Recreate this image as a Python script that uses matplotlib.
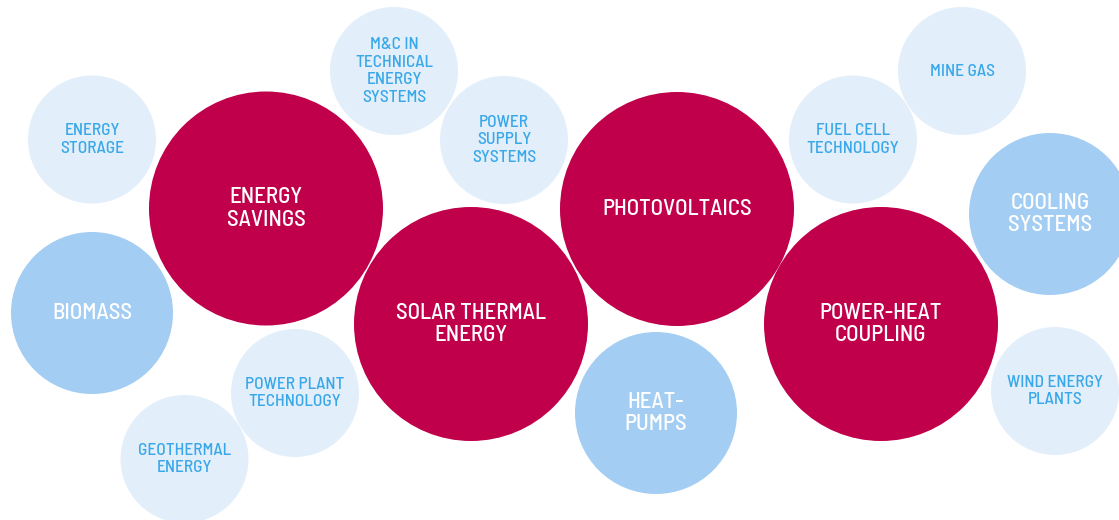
import matplotlib.pyplot as plt
from matplotlib.patches import Circle

# bubbles: label, centre x, centre y, radius (pixel units of the 1119x520 picture), group
labels = [
    "ENERGY\nSTORAGE", "M&C IN\nTECHNICAL\nENERGY\nSYSTEMS", "POWER\nSUPPLY\nSYSTEMS",
    "FUEL CELL\nTECHNOLOGY", "MINE GAS", "POWER PLANT\nTECHNOLOGY", "GEOTHERMAL\nENERGY",
    "WIND ENERGY\nPLANTS",
    "BIOMASS", "HEAT-\nPUMPS", "COOLING\nSYSTEMS",
    "ENERGY\nSAVINGS", "SOLAR THERMAL\nENERGY", "PHOTOVOLTAICS", "POWER-HEAT\nCOUPLING",
]
cx = [92, 394, 504, 853, 962, 295, 184.5, 1055, 92, 656, 1050, 266, 471, 677, 881]
cy = [139.5, 71, 140, 139.5, 71, 393, 459, 391, 313, 413, 214, 208.5, 324, 209, 324]
radius = [64, 64, 64, 64, 64, 64, 64, 64, 81, 81, 81, 117, 117, 117, 117]
group = ["small"] * 8 + ["medium"] * 3 + ["large"] * 4

fill = {"small": "#E2EFFB", "medium": "#A3CDF2", "large": "#C0004A"}
ink = {"small": "#3AA8E8", "medium": "#FFFFFF", "large": "#FFFFFF"}
size = {"small": 12.5, "medium": 16.5, "large": 16.5}
weight = {"small": "medium", "medium": "medium", "large": "medium"}
spacing = {"small": 1.2, "medium": 1.15, "large": 1.15}
fam = ["Barlow Semi Condensed", "Roboto Condensed", "DejaVu Sans"]

fig = plt.figure(figsize=(11.19, 5.2), dpi=100)
ax = fig.add_axes([0, 0, 1, 1])
ax.set_xlim(0, 1119)
ax.set_ylim(520, 0)
ax.set_aspect("equal")
ax.axis("off")

for lab, x, y, r, g in zip(labels, cx, cy, radius, group):
    ax.add_patch(Circle((x, y), r, facecolor=fill[g], edgecolor="none"))
    ax.text(x, y, lab, ha="center", va="center", color=ink[g], fontsize=size[g],
            family=fam, fontweight=weight[g], linespacing=spacing[g],
            multialignment="center")

fig.savefig("out.png", dpi=100)
